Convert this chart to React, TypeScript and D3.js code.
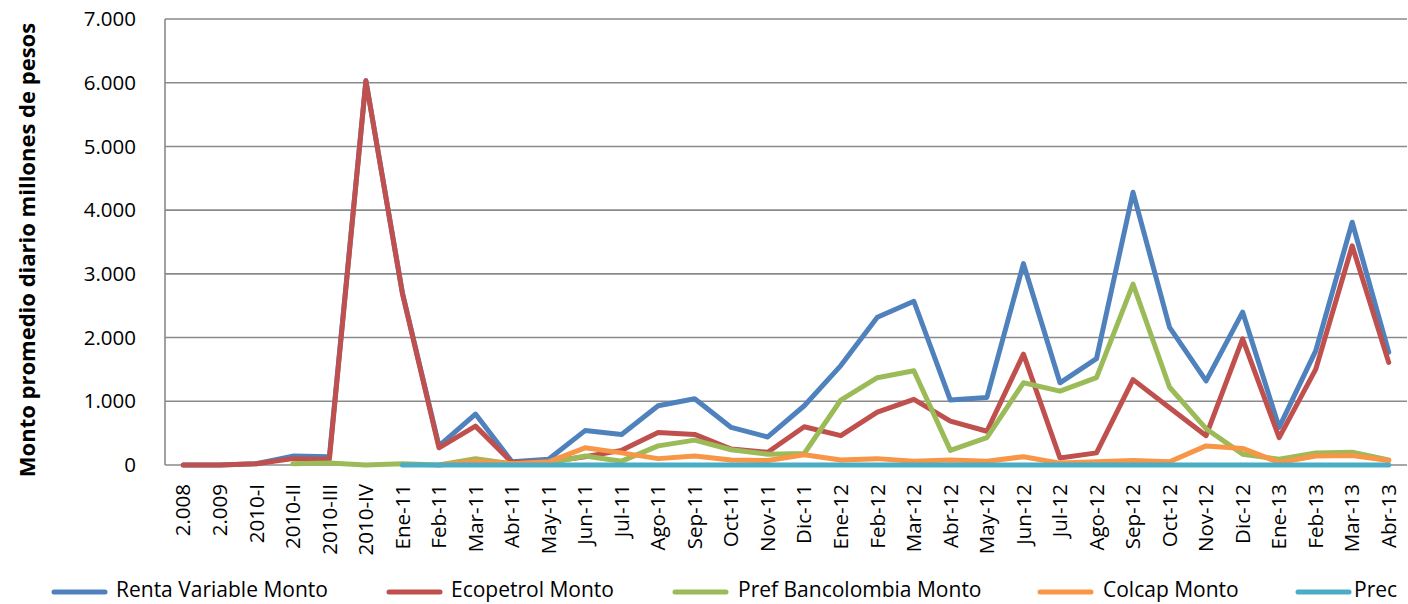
import React from "react";
import * as d3 from "d3";

const categories = ["2.008","2.009","2010-I","2010-II","2010-III","2010-IV","Ene-11","Feb-11","Mar-11","Abr-11","May-11","Jun-11","Jul-11","Ago-11","Sep-11","Oct-11","Nov-11","Dic-11","Ene-12","Feb-12","Mar-12","Abr-12","May-12","Jun-12","Jul-12","Ago-12","Sep-12","Oct-12","Nov-12","Dic-12","Ene-13","Feb-13","Mar-13","Abr-13"];

const rentaVariable: (number | null)[] = [0,0,20,140,130,6030,2700,300,800,50,90,540,480,930,1040,590,440,930,1560,2320,2570,1020,1060,3160,1290,1670,4280,2160,1320,2400,590,1790,3810,1770];
const ecopetrol: (number | null)[] = [0,0,20,100,90,6030,2690,270,610,40,50,130,230,510,480,250,200,600,460,830,1030,690,530,1740,110,190,1340,900,460,1980,430,1500,3440,1610];
const prefBancolombia: (number | null)[] = [null,null,null,20,30,0,20,0,100,20,30,140,60,300,390,240,170,180,1020,1370,1480,230,430,1290,1160,1370,2840,1220,570,170,90,190,200,80];
const colcap: (number | null)[] = [null,null,null,null,null,null,null,0,60,20,50,270,190,100,140,80,70,160,80,100,60,80,60,130,30,50,70,50,300,260,40,140,150,70];
const prec: (number | null)[] = [null,null,null,null,null,null,0,0,0,0,0,0,0,0,0,0,0,0,0,0,0,0,0,0,0,0,0,0,0,0,0,0,0,0];

const yTicks = [0,1000,2000,3000,4000,5000,6000,7000];
const seriesNames = ["Renta Variable Monto","Ecopetrol Monto","Pref Bancolombia Monto","Colcap Monto","Prec"];
const seriesColors = ["#4F81BD","#C0504D","#9BBB59","#F79646","#4BACC6"];
const seriesData = [rentaVariable, ecopetrol, prefBancolombia, colcap, prec];

const W = 1408, H = 604;
const left = 165, right = 1407, top = 19, bottom = 465;
const font = "'Open Sans', sans-serif";

export default function App() {
  const x = d3.scaleBand<string>().domain(categories).range([left, right]);
  const y = d3.scaleLinear().domain([0, 7000]).range([bottom, top]);
  const fmt = (v: number) => (v === 0 ? "0" : d3.format(",")(v).replace(/,/g, "."));
  const line = d3.line<number | null>()
    .defined((d) => d !== null)
    .x((_, i) => (x(categories[i]) as number) + x.bandwidth() / 2)
    .y((d) => y(d as number));

  const legendSwatch = [52, 387, 673, 1038, 1296];
  const legendText = [116, 451, 738, 1103, 1354];

  return (
    <svg width={W} height={H} style={{ position: "absolute", left: 0, top: 0, display: "block", background: "#fff" }}>
      {yTicks.map((t) => (
        <g key={t}>
          <line x1={left} x2={right} y1={y(t)} y2={y(t)} stroke="#8a8a8a" strokeWidth={1.6} />
          <text x={136} y={y(t)} dy="0.35em" textAnchor="end" fontFamily={font} fontSize={20.5} fill="#000">{fmt(t)}</text>
        </g>
      ))}
      <line x1={left} x2={left} y1={top} y2={bottom} stroke="#8a8a8a" strokeWidth={1.6} />
      {categories.map((c) => (
        <text key={c} transform={`translate(${(x(c) as number) + x.bandwidth() / 2},484) rotate(-90)`} textAnchor="end" dy="0.35em" fontFamily={font} fontSize={20.5} fill="#000">{c}</text>
      ))}
      <text transform="translate(27,250) rotate(-90)" textAnchor="middle" dy="0.35em" fontFamily={font} fontWeight="bold" fontSize={22} fill="#000">Monto promedio diario millones de pesos</text>
      {seriesData.map((s, i) => (
        <path key={i} d={line(s) || ""} fill="none" stroke={seriesColors[i]} strokeWidth={5} strokeLinejoin="round" strokeLinecap="round" />
      ))}
      {seriesNames.map((n, i) => (
        <g key={n}>
          <line x1={legendSwatch[i] + 2} x2={legendSwatch[i] + 53} y1={592} y2={592} stroke={seriesColors[i]} strokeWidth={5} strokeLinecap="round" />
          <text x={legendText[i]} y={590} dy="0.35em" fontFamily={font} fontSize={21} fill="#000">{n}</text>
        </g>
      ))}
    </svg>
  );
}
